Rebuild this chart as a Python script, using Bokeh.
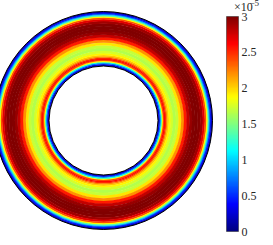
import numpy as np
from bokeh.plotting import figure
from bokeh.models import (LinearColorMapper, ColorBar, FixedTicker,
                          CustomJSTickFormatter, Label, ColumnDataSource, Range1d)
from bokeh.embed import file_html
from bokeh.resources import INLINE

# ---- data: radial profile of the field across the annulus (values x 1e-5) ----
# position across the ring: 0 = inner wall, 1 = outer wall
ring_pos = [0.00, 0.02, 0.04, 0.06, 0.08, 0.10, 0.12, 0.14, 0.16, 0.18,
            0.21, 0.25, 0.30, 0.35, 0.40, 0.45, 0.50, 0.55, 0.60, 0.65,
            0.70, 0.75, 0.80, 0.84, 0.87, 0.90, 0.92, 0.94, 0.96, 0.98, 1.00]
ring_val = [0.05, 0.30, 0.70, 1.20, 1.90, 2.40, 2.60, 2.50, 2.25, 2.05,
            1.90, 1.75, 1.65, 1.70, 1.95, 2.20, 2.55, 2.80, 2.92, 2.98,
            3.00, 2.98, 2.90, 2.70, 2.40, 1.90, 1.35, 0.90, 0.50, 0.25, 0.05]
r_inner = 0.5
r_outer = 1.0
cbar_ticks = [0, 0.5, 1, 1.5, 2, 2.5, 3]
cbar_low, cbar_high = 0, 3
exponent_text = ["×10", "−5"]

# ---- jet colormap ----
def jet(n=256):
    out = []
    for i in range(n):
        x = i / (n - 1)
        r = min(max(1.5 - abs(4 * x - 3), 0), 1)
        g = min(max(1.5 - abs(4 * x - 2), 0), 1)
        b = min(max(1.5 - abs(4 * x - 1), 0), 1)
        out.append("#%02x%02x%02x" % (int(round(r * 255)), int(round(g * 255)), int(round(b * 255))))
    return out

mapper = LinearColorMapper(palette=jet(), low=cbar_low, high=cbar_high)

# ring edges
radii = [r_inner + t * (r_outer - r_inner) for t in ring_pos]
edges = [r_inner] + [(radii[i] + radii[i + 1]) / 2 for i in range(len(radii) - 1)] + [r_outer]
inner_r = edges[:-1]
outer_r = [e + 0.004 for e in edges[1:-1]] + [edges[-1]]
src = ColumnDataSource(dict(x=[0] * len(ring_val), y=[0] * len(ring_val),
                            ri=inner_r, ro=outer_r, v=ring_val))

# ---- layout (pixels per unit) ----
W, H = 273, 245
S = 109.0
cx, cy = 111.0, 128.0
p = figure(width=W, height=H, title=None,
           x_range=Range1d(-cx / S, (W - cx) / S),
           y_range=Range1d(-(H - cy) / S, cy / S),
           x_axis_type=None, y_axis_type=None,
           output_backend="svg", toolbar_location=None,
           min_border=0, outline_line_color=None,
           styles={"margin": "-8px"})
p.grid.visible = False

p.annulus(x="x", y="y", inner_radius="ri", outer_radius="ro", source=src,
          fill_color={"field": "v", "transform": mapper}, line_color=None)
p.circle(x=[0, 0], y=[0, 0], radius=[r_outer, r_inner],
         fill_color=None, line_color="black", line_width=1)

cb = ColorBar(color_mapper=mapper, location=(234, 6), width=12, height=215,
              padding=0, margin=0,
              ticker=FixedTicker(ticks=cbar_ticks),
              formatter=CustomJSTickFormatter(code="return tick.toString()"),
              major_label_text_font="Liberation Serif",
              major_label_text_font_size="12px",
              major_label_text_color="#262626",
              label_standoff=3,
              major_tick_line_color=None, minor_tick_line_color=None,
              bar_line_color="#262626", bar_line_width=0.5,
              background_fill_color=None, border_line_color=None)
p.add_layout(cb)

p.add_layout(Label(x=(241.5 - cx) / S, y=(cy - 14.5) / S, text=exponent_text[0],
                   text_font="Liberation Serif", text_font_size="12px",
                   text_color="#262626", text_baseline="middle"))
p.add_layout(Label(x=(257.0 - cx) / S, y=(cy - 10.0) / S, text=exponent_text[1],
                   text_font="Liberation Serif", text_font_size="9px",
                   text_color="#262626", text_baseline="middle"))

open("out.html", "w").write(file_html(p, INLINE))
